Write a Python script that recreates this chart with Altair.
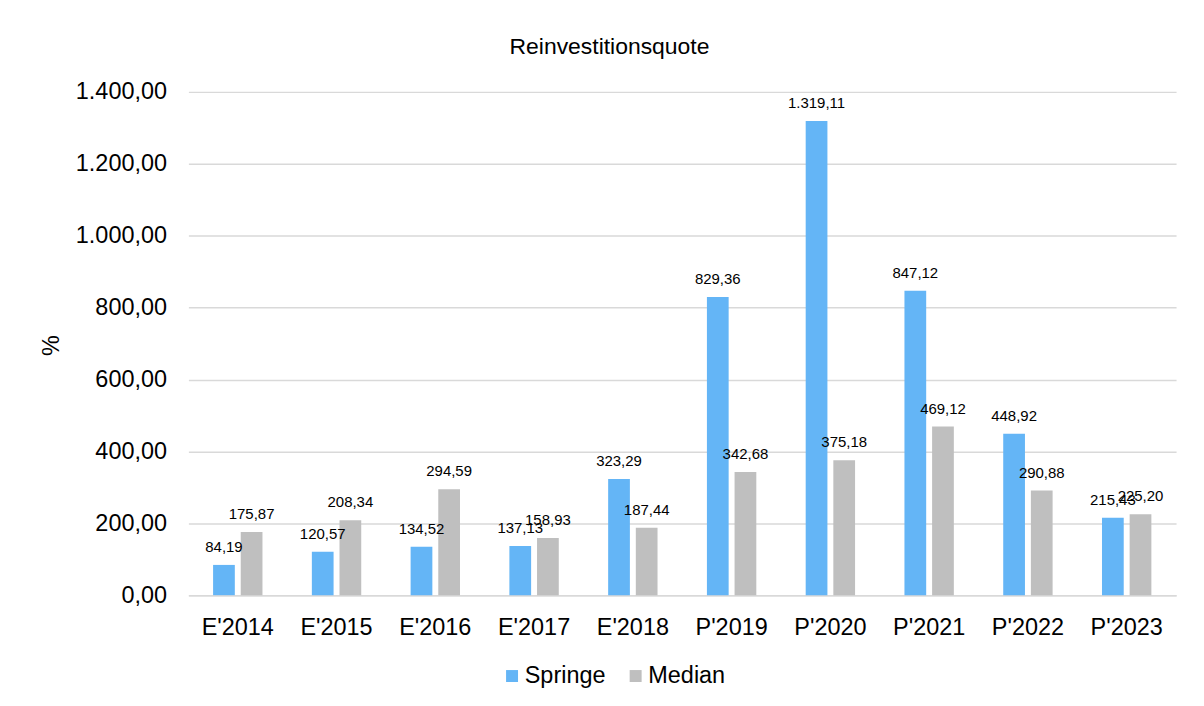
import altair as alt
import pandas as pd

categories = ["E'2014", "E'2015", "E'2016", "E'2017", "E'2018",
              "P'2019", "P'2020", "P'2021", "P'2022", "P'2023"]
springe = [84.19, 120.57, 134.52, 137.13, 323.29, 829.36, 1319.11, 847.12, 448.92, 215.43]
median = [175.87, 208.34, 294.59, 158.93, 187.44, 342.68, 375.18, 469.12, 290.88, 225.20]
series_names = ["Springe", "Median"]
colors = ["#64B5F6", "#BFBFBF"]


def de(v):
    s = f"{v:,.2f}"
    return s.replace(",", "#").replace(".", ",").replace("#", ".")


rows = []
for c, s, m in zip(categories, springe, median):
    rows.append({"cat": c, "series": "Springe", "value": s, "label": de(s)})
    rows.append({"cat": c, "series": "Median", "value": m, "label": de(m)})
df = pd.DataFrame(rows)

FONT = "Liberation Sans"
grid = "#D9D9D9"
BIG = 23.5

x_enc = alt.X("cat:N", sort=categories,
              scale=alt.Scale(paddingInner=0.5, paddingOuter=0.25),
              axis=alt.Axis(title=None, labelAngle=0, labelFontSize=BIG, labelColor="#000000",
                            ticks=False, domain=True, domainColor=grid, domainWidth=1.5,
                            labelPadding=20, labelFont=FONT))
xo_enc = alt.XOffset("series:N", sort=series_names, scale=alt.Scale(paddingInner=0.214))
y_enc = alt.Y("value:Q",
              scale=alt.Scale(domain=[0, 1400], nice=False),
              axis=alt.Axis(title="%", values=list(range(0, 1401, 200)),
                            labelExpr="replace(replace(replace(format(datum.value, ',.2f'), ',', '#'), '.', ','), '#', '.')",
                            labelFontSize=BIG, labelColor="#000000", labelFont=FONT,
                            labelPadding=22, ticks=False, domain=False,
                            gridColor=grid, gridWidth=1.5,
                            titleFontSize=BIG, titleFontWeight="normal", titleColor="#000000",
                            titleFont=FONT, titleX=-137, titleY=254,
                            titleAlign="center", titleBaseline="middle"))

base = alt.Chart(df)

bars = base.mark_bar().encode(
    x=x_enc,
    xOffset=xo_enc,
    y=y_enc,
    color=alt.Color("series:N", sort=series_names,
                    scale=alt.Scale(domain=series_names, range=colors),
                    legend=alt.Legend(title=None, orient="none", legendX=313, legendY=574,
                                      direction="horizontal", symbolType="square",
                                      symbolSize=144, symbolStrokeWidth=0,
                                      labelFontSize=BIG, labelFont=FONT, labelColor="#000000",
                                      labelOffset=1, columnPadding=18)),
)

labels = base.mark_text(fontSize=15, font=FONT, color="#000000",
                        baseline="alphabetic", dy=-13).encode(
    x=x_enc,
    xOffset=xo_enc,
    y=y_enc,
    text="label:N",
)

chart = (bars + labels).properties(
    width=991, height=505,
    title=alt.TitleParams("Reinvestitionsquote", fontSize=23, fontWeight="normal",
                          font=FONT, color="#000000", offset=21, dx=-73),
    padding={"left": 181, "top": 83, "right": 20, "bottom": 100},
    autosize=alt.AutoSizeParams(type="none"),
).configure_view(stroke=None)

chart.save("out.html", embed_options={"renderer": "svg", "actions": False})
